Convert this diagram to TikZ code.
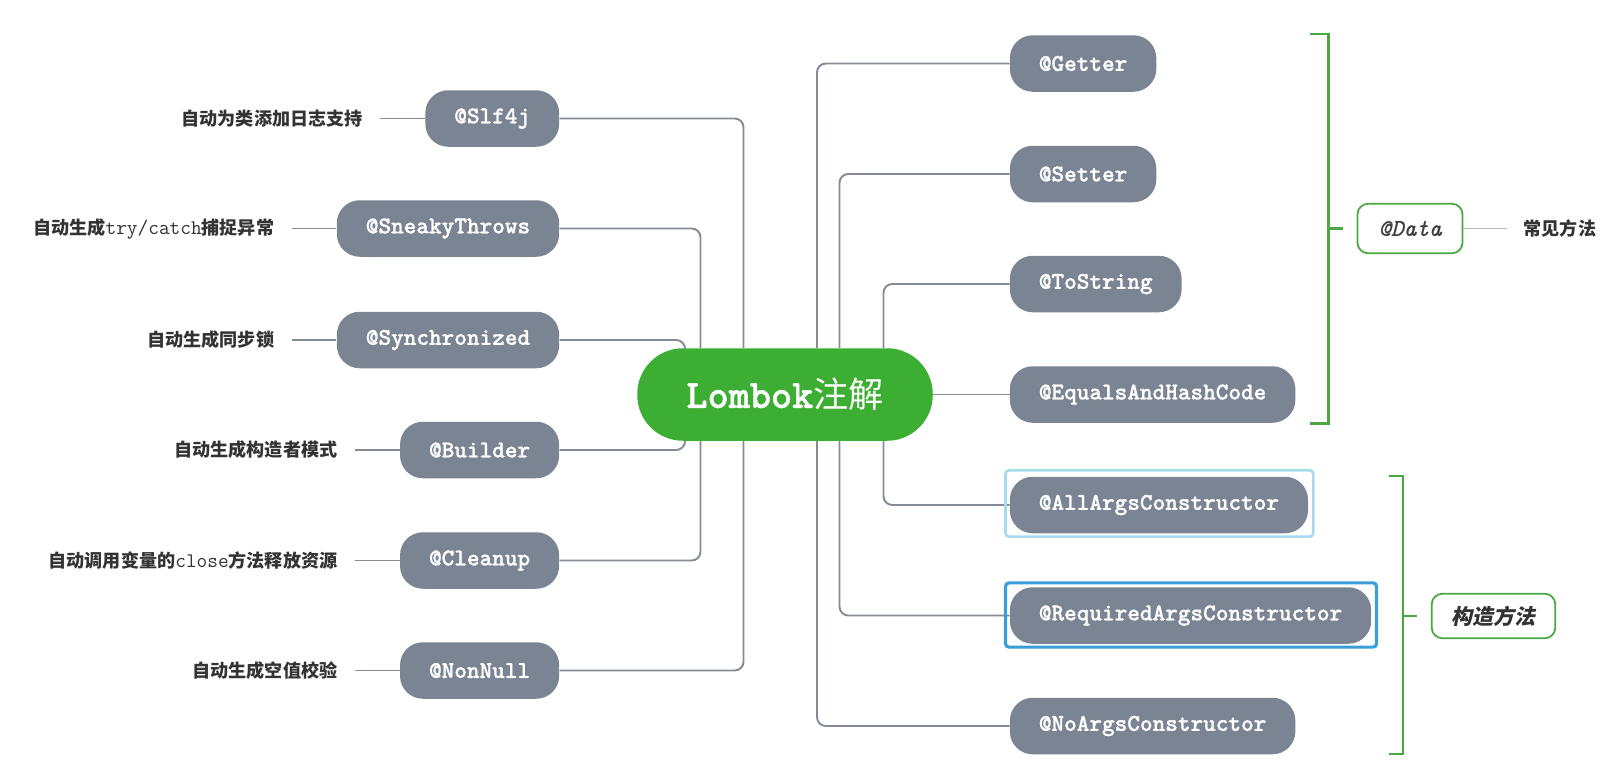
\documentclass[tikz,border=0pt]{standalone}
\usepackage{fontspec}
\setmainfont{Liberation Sans}
\newfontfamily\codefont{lmmonolt10-bold.otf}[FakeBold=1.1]
\newfontfamily\codeital{lmmono10-italic.otf}[FakeBold=0.8]
\newfontfamily\cjk{Noto Sans CJK SC}
\newfontfamily\cjkslant{Noto Sans CJK SC}[FakeSlant=0.2]
\usetikzlibrary{positioning,calc}
\definecolor{slate}{HTML}{7B8493}
\definecolor{wire}{HTML}{858B97}
\definecolor{leaf}{HTML}{3DAE34}
\definecolor{rim}{HTML}{4AA843}
\definecolor{ink}{HTML}{333333}
\definecolor{hilite}{HTML}{A8DAEE}
\definecolor{picked}{HTML}{3A9FD8}

\tikzset{
  annot/.style={fill=slate, rounded corners=13pt, minimum height=1.13cm, inner xsep=0.58cm,
    text=white, font=\fontsize{13.7}{16}\selectfont\codefont},
  hint/.style={text=ink, inner xsep=0.35cm, font={\cjk\bfseries\fontsize{10.3}{12}\selectfont}},
  conn/.style={draw=wire, line width=1.1pt, rounded corners=5pt},
  brace/.style={draw=rim, line width=1.6pt},
}

\begin{document}
\begin{tikzpicture}
  \useasboundingbox (0,0) rectangle (32.3,-15.58);

  % centre
  \node[fill=leaf, rounded corners=26pt, minimum width=5.91cm, minimum height=1.85cm, text=white,
    font=\fontsize{22.9}{26}\selectfont\codefont] (root) at (15.70,-7.89) {Lombok{\cjk\fontsize{20}{24}\selectfont 注解}};

  % left side
  \node[annot, anchor=east] (slf4j) at (11.19,-2.37) {@Slf4j};
  \node[annot, anchor=east] (sneaky) at (11.19,-4.57) {@SneakyThrows};
  \node[annot, anchor=east] (sync) at (11.19,-6.80) {@Synchronized};
  \node[annot, anchor=east] (builder) at (11.19,-9.00) {@Builder};
  \node[annot, anchor=east] (cleanup) at (11.19,-11.21) {@Cleanup};
  \node[annot, anchor=east] (nonnull) at (11.19,-13.41) {@NonNull};

  \node[hint, left=0.89cm of slf4j] (slf4jtxt) {自动为类添加日志支持};
  \node[hint, left=0.89cm of sneaky] (sneakytxt) {自动生成{\ttfamily\mdseries\fontsize{11.8}{12}\selectfont try/catch}捕捉异常};
  \node[hint, left=0.89cm of sync] (synctxt) {自动生成同步锁};
  \node[hint, left=0.89cm of builder] (buildertxt) {自动生成构造者模式};
  \node[hint, left=0.89cm of cleanup] (cleanuptxt) {自动调用变量的{\ttfamily\mdseries\fontsize{11.8}{12}\selectfont close}方法释放资源};
  \node[hint, left=0.89cm of nonnull] (nonnulltxt) {自动生成空值校验};

  % right side
  \node[annot, anchor=west] (getter) at (20.19,-1.27) {@Getter};
  \node[annot, anchor=west] (setter) at (20.19,-3.48) {@Setter};
  \node[annot, anchor=west] (tostring) at (20.19,-5.68) {@ToString};
  \node[annot, anchor=west] (equals) at (20.19,-7.89) {@EqualsAndHashCode};
  \node[annot, anchor=west] (allargs) at (20.19,-10.10) {@AllArgsConstructor};
  \node[annot, anchor=west] (required) at (20.19,-12.31) {@RequiredArgsConstructor};
  \node[annot, anchor=west] (noargs) at (20.19,-14.52) {@NoArgsConstructor};

  % connectors
  \draw[conn] (slf4jtxt.east) -- (slf4j.west);
  \draw[conn] (sneakytxt.east) -- (sneaky.west);
  \draw[conn] (synctxt.east) -- (sync.west);
  \draw[conn] (buildertxt.east) -- (builder.west);
  \draw[conn] (cleanuptxt.east) -- (cleanup.west);
  \draw[conn] (nonnulltxt.east) -- (nonnull.west);

  \draw[conn] (slf4j.east) -| ([xshift=-0.83cm]root.north);
  \draw[conn] (sneaky.east) -| ([xshift=-1.69cm]root.north);
  \draw[conn] (sync.east) -| ([xshift=-2.0cm]root.north);
  \draw[conn] (builder.east) -| ([xshift=-2.0cm]root.south);
  \draw[conn] (cleanup.east) -| ([xshift=-1.69cm]root.south);
  \draw[conn] (nonnull.east) -| ([xshift=-0.83cm]root.south);

  \draw[conn] (getter.west) -| ([xshift=0.64cm]root.north);
  \draw[conn] (setter.west) -| ([xshift=1.09cm]root.north);
  \draw[conn] (tostring.west) -| ([xshift=1.97cm]root.north);
  \draw[conn] (root.east) -- (equals.west);
  \draw[conn] (allargs.west) -| ([xshift=1.97cm]root.south);
  \draw[conn] (required.west) -| ([xshift=1.09cm]root.south);
  \draw[conn] (noargs.west) -| ([xshift=0.64cm]root.south);

  % selection frames
  \draw[hilite, line width=1.5pt, rounded corners=2pt] ([shift={(-0.08,0.12)}]allargs.north west) rectangle ([shift={(0.1,-0.06)}]allargs.south east);
  \draw[picked, line width=1.8pt, rounded corners=2pt] ([shift={(-0.08,0.08)}]required.north west) rectangle ([shift={(0.1,-0.06)}]required.south east);

  % @Data group
  \node[draw=rim, line width=1pt, fill=white, rounded corners=6pt, minimum width=2.1cm, minimum height=0.99cm,
    text=darkgray, font=\fontsize{13.7}{16}\selectfont\codeital] (data) at (28.2,-4.57) {@Data};
  \node[hint, right=0.87cm of data, inner xsep=0.33cm] (common) {常见方法};
  \draw[draw=gray!55, line width=0.8pt] (data.east) -- (common.west);
  \draw[brace] (26.2,-0.68) -- (26.57,-0.68) -- (26.57,-8.47) -- (26.2,-8.47);
  \draw[brace] (26.57,-4.57) -- ([xshift=-0.27cm]data.west);

  % constructor group
  \node[draw=rim, line width=1pt, rounded corners=6pt, minimum width=2.47cm, minimum height=0.89cm,
    text=ink, font={\cjkslant\bfseries\fontsize{12}{14}\selectfont}] (ctor) at (29.87,-12.32) {构造方法};
  \draw[brace] (27.77,-9.52) -- (28.06,-9.52) -- (28.06,-15.08) -- (27.77,-15.08);
  \draw[brace] (28.06,-12.32) -- ([xshift=-0.28cm]ctor.west);
\end{tikzpicture}
\end{document}
